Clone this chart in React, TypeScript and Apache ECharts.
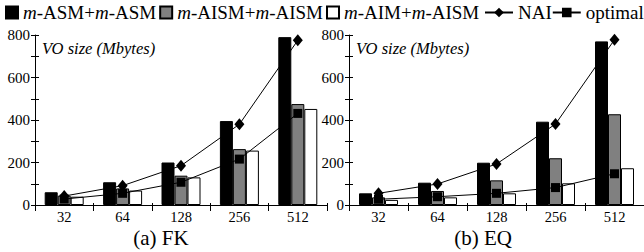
import React, { useEffect, useRef } from 'react';
import * as echarts from 'echarts';

const categories = ['32', '64', '128', '256', '512'];
const seriesNames = ['m-ASM+m-ASM', 'm-AISM+m-AISM', 'm-AIM+m-AISM', 'NAI', 'optimal'];
const panelTitles = ['(a) FK', '(b) EQ'];
const yAxisName = 'VO size (Mbytes)';

// FK panel
const fkAsm = [60, 107, 200, 395, 790];
const fkAism = [44, 78, 138, 263, 475];
const fkAim = [39, 68, 130, 256, 452];
const fkNai = [42, 91, 185, 380, 775];
const fkOptimal = [28, 55, 107, 216, 431];

// EQ panel
const eqAsm = [55, 105, 199, 392, 770];
const eqAism = [36, 66, 116, 220, 427];
const eqAim = [24, 36, 55, 102, 173];
const eqNai = [55, 99, 193, 381, 778];
const eqOptimal = [27, 39, 55, 82, 147];

const FONT = "'Liberation Serif', 'Times New Roman', Times, serif";

export default function App() {
  const ref = useRef<HTMLDivElement>(null);

  useEffect(() => {
    const chart = echarts.init(ref.current!, null, { renderer: 'svg' });

    const barColors = ['#000000', '#808080', '#ffffff'];

    const bar = (name: string, data: number[], color: string, gi: number) => ({
      type: 'bar',
      name,
      data,
      xAxisIndex: gi,
      yAxisIndex: gi,
      barWidth: 13,
      barGap: '0%',
      itemStyle: { color, borderColor: '#000', borderWidth: 1 },
      z: 2,
    });

    const line = (name: string, data: number[], symbol: string, size: any, gi: number) => ({
      type: 'line',
      name,
      data,
      xAxisIndex: gi,
      yAxisIndex: gi,
      symbol,
      symbolSize: size,
      lineStyle: { color: '#000', width: 1 },
      itemStyle: { color: '#000' },
      z: 3,
    });

    const mainY = (gi: number) => ({
      type: 'value',
      gridIndex: gi,
      position: 'left',
      min: 0,
      max: 800,
      interval: 200,
      name: yAxisName,
      nameLocation: 'end',
      nameGap: -13,
      nameTextStyle: {
        align: 'left',
        verticalAlign: 'middle',
        fontStyle: 'italic',
        fontSize: 16.5,
        fontFamily: FONT,
        color: '#000',
        padding: [0, 0, 0, 7],
      },
      axisLine: { show: true, lineStyle: { color: '#000', width: 1 } },
      axisTick: { show: true, length: 4, lineStyle: { color: '#000' } },
      minorTick: { show: true, splitNumber: 2, length: 4, lineStyle: { color: '#000' } },
      splitLine: { show: false },
      axisLabel: { color: '#000', fontSize: 15, fontFamily: FONT, margin: 5 },
    });

    const innerY = (gi: number) => ({
      type: 'value',
      gridIndex: gi,
      position: 'left',
      min: 0,
      max: 800,
      interval: 200,
      axisLine: { show: false },
      axisTick: { show: true, inside: true, length: 4, lineStyle: { color: '#000' } },
      minorTick: { show: true, splitNumber: 2, length: 4, lineStyle: { color: '#000' } },
      splitLine: { show: false },
      axisLabel: { show: false },
    });

    const mainX = (gi: number) => ({
      type: 'category',
      gridIndex: gi,
      position: 'bottom',
      data: categories,
      axisLine: { show: true, lineStyle: { color: '#000', width: 1 } },
      axisTick: { show: true, length: 6, lineStyle: { color: '#000' } },
      axisLabel: { color: '#000', fontSize: 14.5, lineHeight: 14, fontFamily: FONT, margin: 5 },
      splitLine: { show: false },
    });

    const innerX = (gi: number) => ({
      type: 'category',
      gridIndex: gi,
      position: 'bottom',
      data: categories,
      axisLine: { show: false },
      axisTick: { show: true, inside: true, length: 2, lineStyle: { color: '#000' } },
      axisLabel: { show: false },
      splitLine: { show: false },
    });

    const legendText = {
      color: '#000',
      fontSize: 19,
      fontFamily: FONT,
      rich: {
        i: { fontStyle: 'italic', fontSize: 19, fontFamily: FONT, color: '#000' },
      },
    };

    const option: any = {
      animation: false,
      textStyle: { fontFamily: FONT, color: '#000' },
      legend: [
        {
          data: seriesNames.slice(0, 3),
          left: 5,
          top: 3,
          padding: 0,
          itemWidth: 12,
          itemHeight: 12,
          itemGap: 3,
          icon: 'rect',
          formatter: (n: string) => n.replace(/m-/g, '{i|m}-'),
          textStyle: legendText,
        },
        {
          data: seriesNames.slice(3),
          left: 484,
          top: 3,
          padding: 0,
          itemWidth: 28,
          itemHeight: 12,
          itemGap: 0,
          textStyle: legendText,
        },
      ],
      title: panelTitles.map((t, i) => ({
        text: t,
        left: i === 0 ? 161 : 483,
        top: 227,
        padding: 0,
        textAlign: 'center',
        textStyle: { fontSize: 21, lineHeight: 21, fontWeight: 'normal', fontFamily: FONT, color: '#000' },
      })),
      grid: [
        { left: 35, right: 317, top: 35, bottom: 47 },
        { left: 349, right: -8, top: 35, bottom: 47 },
      ],
      xAxis: [mainX(0), mainX(1), innerX(0), innerX(1)],
      yAxis: [mainY(0), mainY(1), innerY(0), innerY(1)],
      series: [
        bar(seriesNames[0], fkAsm, barColors[0], 0),
        bar(seriesNames[1], fkAism, barColors[1], 0),
        bar(seriesNames[2], fkAim, barColors[2], 0),
        line(seriesNames[3], fkNai, 'diamond', [10, 12], 0),
        line(seriesNames[4], fkOptimal, 'rect', 9, 0),
        bar(seriesNames[0], eqAsm, barColors[0], 1),
        bar(seriesNames[1], eqAism, barColors[1], 1),
        bar(seriesNames[2], eqAim, barColors[2], 1),
        line(seriesNames[3], eqNai, 'diamond', [10, 12], 1),
        line(seriesNames[4], eqOptimal, 'rect', 9, 1),
      ],
    };

    chart.setOption(option);
    return () => chart.dispose();
  }, []);

  return (
    <div
      ref={ref}
      style={{ position: 'fixed', left: 0, top: 0, width: 644, height: 252, background: '#fff' }}
    />
  );
}
